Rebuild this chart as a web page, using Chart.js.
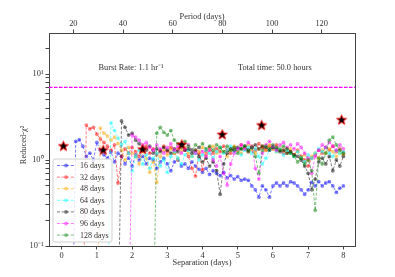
<!DOCTYPE html>
<html>
<head>
<meta charset="utf-8">
<script src="https://cdn.jsdelivr.net/npm/chart.js@4.4.0/dist/chart.umd.min.js"></script>
<style>
  html, body { margin: 0; padding: 0; background: #fff; }
  canvas { display: block; }
</style>
</head>
<body>
<canvas id="chart" width="395" height="277"></canvas>
<script>
// separation grid (days)
const separation = [0.3, 0.4, 0.5, 0.6, 0.7, 0.8, 0.9, 1.0, 1.1, 1.2, 1.3, 1.4, 1.5, 1.6, 1.7, 1.8, 1.9, 2.0,
  2.1, 2.2, 2.3, 2.4, 2.5, 2.6, 2.7, 2.8, 2.9, 3.0, 3.1, 3.2, 3.3, 3.4, 3.5, 3.6, 3.7, 3.8, 3.9, 4.0,
  4.1, 4.2, 4.3, 4.4, 4.5, 4.6, 4.7, 4.8, 4.9, 5.0, 5.1, 5.2, 5.3, 5.4, 5.5, 5.6, 5.7, 5.8, 5.9, 6.0,
  6.1, 6.2, 6.3, 6.4, 6.5, 6.6, 6.7, 6.8, 6.9, 7.0, 7.1, 7.2, 7.3, 7.4, 7.5, 7.6, 7.7, 7.8, 7.9, 8.0];

const seriesNames = ['16 days', '32 days', '48 days', '64 days', '80 days', '96 days', '128 days'];
const seriesColors = ['0,0,255', '255,0,0', '255,165,0', '0,255,255', '0,0,0', '255,0,255', '0,128,0'];
// index into the separation grid where each series starts (first value is ~0, below the axis)
const seriesStart = [0, 3, 7, 10, 13, 16, 23];

const chi16 = [0.01,
  1.65, 1.72, 1.45, 1.1, 1.2, 1.0, 1.6, 1.3, 1.15, 1.05,
  1.25, 0.95, 1.2, 1.1, 0.9, 1.05, 0.85, 1.15, 1.0, 1.1,
  0.9, 1.05, 1.0, 0.8, 0.95, 1.05, 0.9, 0.75, 0.95, 1.0,
  0.85, 0.9, 0.8, 0.95, 0.85, 0.78, 0.72, 0.8, 0.68, 0.75,
  0.7, 0.66, 0.72, 0.62, 0.66, 0.6, 0.64, 0.58, 0.6, 0.58,
  0.5, 0.45, 0.37, 0.5, 0.45, 0.37, 0.5, 0.54, 0.5, 0.54,
  0.5, 0.56, 0.54, 0.5, 0.45, 0.4, 0.45, 0.55, 0.5, 0.56,
  0.5, 0.54, 0.56, 0.5, 0.42, 0.47, 0.5];
const chi32 = [0.01,
  2.55, 2.3, 2.4, 2.0, 1.75, 1.6, 1.45, 1.3, 1.5, 0.54,
  1.1, 1.35, 1.2, 1.4, 1.25, 1.1, 1.3, 1.45, 1.2, 1.35,
  1.15, 1.3, 1.45, 1.25, 1.4, 1.2, 1.35, 1.5, 1.3, 1.1,
  0.8, 0.65, 1.2, 0.77, 1.25, 1.4, 1.2, 1.35, 1.25, 1.45,
  1.3, 1.2, 1.4, 1.3, 1.5, 1.35, 1.25, 1.45, 1.3, 1.55,
  1.4, 1.3, 1.45, 1.35, 1.5, 1.3, 1.2, 1.35, 1.25, 1.15,
  1.3, 1.1, 1.0, 0.85, 1.05, 1.15, 1.3, 1.2, 1.4, 1.3,
  1.45, 1.25, 1.35, 1.2];
const chi48 = [0.01,
  2.35, 2.05, 1.9, 1.7, 1.85, 1.55, 1.3, 1.0, 1.4, 1.2,
  1.1, 0.9, 1.25, 1.05, 0.72, 0.95, 0.55, 1.1, 1.3, 1.15,
  1.35, 1.2, 1.0, 1.3, 1.4, 1.2, 1.1, 1.3, 1.25, 1.4,
  1.15, 1.3, 1.45, 1.2, 1.35, 1.25, 1.1, 1.3, 1.45, 1.3,
  1.2, 1.4, 1.5, 1.3, 1.2, 1.35, 1.45, 1.3, 1.5, 1.35,
  1.25, 1.4, 1.3, 1.2, 1.35, 1.15, 1.25, 1.05, 1.15, 1.0,
  1.1, 1.2, 1.05, 1.3, 1.2, 1.35, 1.25, 1.1, 1.2, 1.15];
const chi64 = [0.01,
  2.7, 2.2, 1.8, 1.5, 1.65, 1.2, 0.75, 1.1, 1.3, 0.9,
  1.15, 0.8, 1.05, 1.2, 0.85, 1.0, 0.72, 1.1, 1.25, 1.05,
  0.9, 1.15, 1.3, 1.1, 1.2, 1.0, 1.15, 1.3, 1.2, 1.05,
  1.25, 1.4, 1.2, 1.3, 1.45, 1.25, 1.35, 1.15, 1.3, 1.4,
  1.2, 1.35, 1.1, 0.9, 1.05, 1.3, 1.4, 1.25, 1.35, 1.15,
  1.3, 1.2, 1.1, 1.25, 1.05, 0.95, 1.15, 1.05, 1.2, 1.35,
  1.25, 1.4, 1.2, 1.1, 1.3, 1.2, 1.25];
const chi80 = [0.01,
  2.85, 2.4, 1.95, 2.05, 1.7, 1.55, 1.4, 1.3, 1.45, 1.2,
  1.35, 1.25, 1.4, 1.3, 1.2, 1.35, 1.25, 1.45, 1.3, 1.35,
  1.2, 1.3, 1.1, 0.95, 1.05, 0.85, 0.95, 0.75, 0.4, 0.9,
  1.2, 1.35, 1.3, 1.4, 1.35, 1.45, 1.3, 1.4, 1.5, 1.35,
  1.45, 1.4, 1.3, 1.4, 1.35, 1.25, 1.3, 1.2, 1.25, 1.15,
  1.1, 1.0, 0.85, 0.7, 0.45, 0.6, 0.95, 1.05, 0.9, 1.1,
  0.75, 1.0, 0.85, 1.1];
const chi96 = [0.01,
  1.95, 1.85, 1.7, 1.5, 1.6, 1.4, 1.3, 1.5, 1.35, 1.2,
  1.4, 1.55, 1.3, 1.45, 1.2, 1.35, 1.5, 1.3, 1.2, 1.4,
  1.25, 1.1, 1.3, 1.0, 0.85, 1.1, 0.7, 0.51, 0.9, 1.2,
  1.35, 1.5, 1.35, 1.6, 1.4, 0.8, 0.6, 1.2, 1.5, 1.65,
  1.45, 1.3, 1.5, 1.6, 1.4, 1.5, 1.35, 1.55, 1.4, 1.2,
  1.05, 0.7, 1.1, 1.3, 1.5, 1.4, 1.6, 1.45, 1.3, 1.5,
  1.35];
const chi128 = [0.01,
  2.05, 2.4, 2.1, 1.95, 2.2, 1.7, 1.55, 1.4, 1.65, 1.45,
  1.3, 1.5, 1.4, 1.55, 1.35, 1.45, 1.3, 1.5, 1.4, 1.25,
  1.45, 1.3, 1.4, 1.2, 1.35, 1.45, 1.25, 1.4, 1.1, 0.7,
  1.3, 1.45, 1.35, 1.5, 1.4, 1.3, 1.45, 1.35, 1.2, 1.1,
  0.95, 1.05, 0.9, 1.0, 0.75, 0.26, 1.05, 0.9, 1.2, 1.7,
  1.85, 1.5, 1.3, 1.2];
const seriesValues = [chi16, chi32, chi48, chi64, chi80, chi96, chi128];

// best-fit stars
const starSeparation = [0.05, 1.18, 2.30, 3.41, 4.56, 5.68, 7.95];
const starChi2 = [1.46, 1.31, 1.34, 1.52, 1.99, 2.55, 2.94];

const thresholdChi2 = 7.0;
const sepRange = [-0.36, 8.33];
const periodRange = [10.2, 133.4];
const sepTicks = [0, 1, 2, 3, 4, 5, 6, 7, 8];
const periodTicks = [20, 40, 60, 80, 100, 120];
const chiMajorTicks = [0.1, 1, 10];
const chiMinorTicks = [0.2, 0.3, 0.4, 0.5, 0.6, 0.7, 0.8, 0.9, 2, 3, 4, 5, 6, 7, 8, 9, 20];
const chiTickLabels = { '0.1': '10\u207B\u00B9', '1': '10\u2070', '10': '10\u00B9' };

const FONT = '"Liberation Serif", "Times New Roman", serif';
const TEXT = '#333';
const AXIS = '#444';

// star marker: black fill, red edge
function makeStar() {
  const c = document.createElement('canvas');
  c.width = 13; c.height = 13;
  const g = c.getContext('2d');
  g.beginPath();
  for (let k = 0; k < 10; k++) {
    const r = k % 2 === 0 ? 5.2 : 2.2;
    const a = -Math.PI / 2 + k * Math.PI / 5;
    const px = 6.5 + r * Math.cos(a), py = 6.9 + r * Math.sin(a);
    k === 0 ? g.moveTo(px, py) : g.lineTo(px, py);
  }
  g.closePath();
  g.fillStyle = '#000';
  g.fill();
  g.lineWidth = 0.9;
  g.strokeStyle = '#ff0000';
  g.stroke();
  return c;
}

const datasets = seriesValues.map((vals, s) => ({
  label: seriesNames[s],
  data: vals.map((v, i) => ({ x: separation[seriesStart[s] + i], y: v })),
  borderColor: 'rgba(' + seriesColors[s] + ',0.5)',
  backgroundColor: 'rgba(' + seriesColors[s] + ',0.5)',
  borderWidth: 1,
  borderDash: [3, 1.6],
  pointRadius: 1.9,
  pointBorderWidth: 0,
  tension: 0,
  order: 10 - s
}));

datasets.push({
  label: 'threshold',
  data: [{ x: sepRange[0], y: thresholdChi2 }, { x: sepRange[1], y: thresholdChi2 }],
  borderColor: '#ff00ff',
  borderWidth: 1.1,
  borderDash: [3.5, 1.5],
  pointRadius: 0,
  order: 2
});

datasets.push({
  label: 'best',
  data: starSeparation.map((x, i) => ({ x: x, y: starChi2[i] })),
  showLine: false,
  pointStyle: makeStar(),
  pointRadius: 6,
  order: 1
});

const textPlugin = {
  id: 'texts',
  afterDraw(chart) {
    const ctx = chart.ctx, a = chart.chartArea;
    ctx.save();
    ctx.fillStyle = TEXT;
    ctx.textAlign = 'center';
    ctx.textBaseline = 'middle';
    ctx.font = '8.4px ' + FONT;
    ctx.fillText('Period (days)', 202, 17);
    ctx.fillText('Separation (days)', 202, 263);
    ctx.fillText('Burst Rate: 1.1 hr\u207B\u00B9', a.left + (a.right - a.left) * 0.268, a.top + 35);
    ctx.fillText('Total time: 50.0 hours', a.left + (a.right - a.left) * 0.738, a.top + 35);
    ctx.save();
    ctx.translate(24, 145);
    ctx.rotate(-Math.PI / 2);
    ctx.fillText('Reduced-\u03C7\u00B2', 0, 0);
    ctx.restore();

    // legend box, lower left
    const bx = a.left + 4, by = 159, bw = 59, bh = 83;
    ctx.beginPath();
    ctx.roundRect(bx, by, bw, bh, 2);
    ctx.fillStyle = 'rgba(255,255,255,0.8)';
    ctx.fill();
    ctx.strokeStyle = '#d0d0d0';
    ctx.lineWidth = 1;
    ctx.stroke();
    ctx.font = '8px ' + FONT;
    ctx.textAlign = 'left';
    seriesNames.forEach((name, s) => {
      const y = by + 6.5 + s * 11.6;
      const col = 'rgba(' + seriesColors[s] + ',0.5)';
      ctx.strokeStyle = col;
      ctx.setLineDash([3, 1.6]);
      ctx.beginPath();
      ctx.moveTo(bx + 4, y);
      ctx.lineTo(bx + 22, y);
      ctx.stroke();
      ctx.setLineDash([]);
      ctx.fillStyle = col;
      ctx.beginPath();
      ctx.arc(bx + 13, y, 1.9, 0, Math.PI * 2);
      ctx.fill();
      ctx.fillStyle = TEXT;
      ctx.fillText(name, bx + 27, y + 0.5);
    });
    ctx.restore();
  }
};

const tickFont = { family: FONT, size: 8.4 };
const axisGrid = { drawOnChartArea: false, tickLength: 3.5, tickColor: AXIS, color: AXIS };
const axisBorder = { display: true, color: AXIS, width: 1 };

new Chart(document.getElementById('chart'), {
  type: 'line',
  data: { datasets: datasets },
  options: {
    responsive: false,
    animation: false,
    devicePixelRatio: 1,
    layout: { padding: 0 },
    plugins: { legend: { display: false }, tooltip: { enabled: false } },
    scales: {
      x: {
        type: 'linear', position: 'bottom',
        min: sepRange[0], max: sepRange[1],
        afterBuildTicks: s => { s.ticks = sepTicks.map(v => ({ value: v })); },
        afterFit: s => { s.height = 31; },
        ticks: { font: tickFont, color: TEXT, padding: 1, maxRotation: 0, autoSkip: false },
        grid: axisGrid, border: axisBorder
      },
      x2: {
        type: 'linear', position: 'top',
        min: periodRange[0], max: periodRange[1],
        afterBuildTicks: s => { s.ticks = periodTicks.map(v => ({ value: v })); },
        afterFit: s => { s.height = 33; },
        ticks: { font: tickFont, color: TEXT, padding: 1, maxRotation: 0, autoSkip: false },
        grid: axisGrid, border: axisBorder
      },
      y: {
        type: 'logarithmic', position: 'left',
        min: 0.1, max: 30,
        afterBuildTicks: s => {
          s.ticks = chiMajorTicks.concat(chiMinorTicks).sort((p, q) => p - q).map(v => ({ value: v }));
        },
        afterFit: s => { s.width = 49; },
        ticks: {
          font: tickFont, color: TEXT, padding: 2, autoSkip: false,
          callback: v => chiTickLabels[String(v)] || ''
        },
        grid: axisGrid, border: axisBorder
      },
      yR: {
        type: 'linear', position: 'right',
        afterFit: s => { s.width = 40; },
        ticks: { display: false },
        grid: { drawOnChartArea: false, drawTicks: false },
        border: axisBorder
      }
    }
  },
  plugins: [textPlugin]
});
</script>
</body>
</html>
